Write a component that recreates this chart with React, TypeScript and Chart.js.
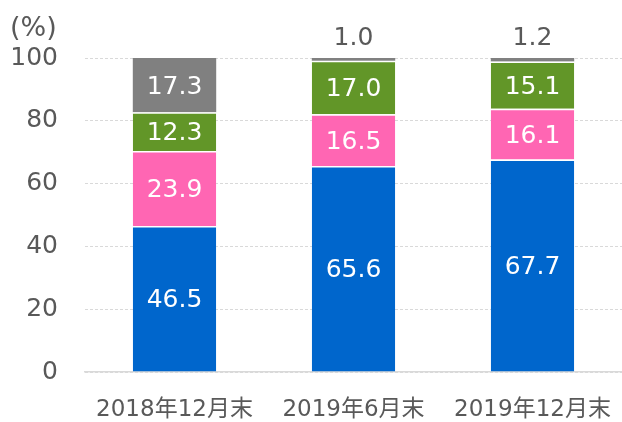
import React, { useEffect, useRef } from "react";
import { Chart, registerables } from "chart.js";

Chart.register(...registerables);

const categories = ["2018年12月末", "2019年6月末", "2019年12月末"];
const blueValues = [46.5, 65.6, 67.7];
const pinkValues = [23.9, 16.5, 16.1];
const greenValues = [12.3, 17.0, 15.1];
const grayValues = [17.3, 1.0, 1.2];
const yTicks = [0, 20, 40, 60, 80, 100];

const FONT = "'DejaVu Sans', Verdana, 'Noto Sans CJK JP', sans-serif";
const TEXT = "#595959";

const labelPlugin = {
  id: "segLabels",
  afterDatasetsDraw(chart: any) {
    const ctx = chart.ctx;
    ctx.save();
    ctx.font = `25px ${FONT}`;
    ctx.textAlign = "center";
    ctx.textBaseline = "middle";
    chart.data.datasets.forEach((ds: any, di: number) => {
      const meta = chart.getDatasetMeta(di);
      meta.data.forEach((bar: any, i: number) => {
        const v = ds.data[i] as number;
        const txt = v.toFixed(1);
        if (v < 5) {
          ctx.fillStyle = TEXT;
          ctx.fillText(txt, bar.x, bar.y - 19);
        } else {
          ctx.fillStyle = "#ffffff";
          ctx.fillText(txt, bar.x, (bar.y + bar.base) / 2 + 2);
        }
      });
    });
    ctx.restore();
  },
};

export default function App() {
  const ref = useRef<HTMLCanvasElement | null>(null);
  useEffect(() => {
    if (!ref.current) return;
    const mk = (label: string, data: number[], color: string, border: number) => ({
      label,
      data,
      backgroundColor: color,
      borderColor: "#ffffff",
      borderWidth: { top: border, bottom: 0, left: 0, right: 0 },
      borderSkipped: false,
      barPercentage: 0.466,
      categoryPercentage: 1,
    });
    const chart = new Chart(ref.current, {
      type: "bar",
      data: {
        labels: categories,
        datasets: [
          mk("blue", blueValues, "#0066CC", 1.5),
          mk("pink", pinkValues, "#FF66B3", 1.5),
          mk("green", greenValues, "#629628", 1.5),
          mk("gray", grayValues, "#808080", 0),
        ],
      },
      options: {
        animation: false,
        responsive: false,
        maintainAspectRatio: false,
        layout: { padding: { left: 10, right: -4, top: 0, bottom: 0 } },
        plugins: {
          legend: { display: false },
          tooltip: { enabled: false },
          title: {
            display: true,
            text: "(%)",
            align: "start",
            color: TEXT,
            font: { family: FONT, size: 27, weight: "normal", lineHeight: 1.2 },
            padding: { top: 13, bottom: 12.6 },
          },
        },
        scales: {
          x: {
            stacked: true,
            grid: { display: false, drawTicks: false },
            border: { display: true, color: "#d9d9d9", width: 1.5 },
            ticks: {
              color: TEXT,
              font: { family: FONT, size: 23, lineHeight: 1 },
              padding: 27,
              maxRotation: 0,
              autoSkip: false,
            },
            afterFit: (s: any) => {
              s.paddingLeft = 0;
              s.paddingRight = 0;
              s.height = 50;
            },
          },
          y: {
            stacked: true,
            min: 0,
            max: 100,
            afterBuildTicks: (axis: any) => {
              axis.ticks = yTicks.map((v) => ({ value: v }));
            },
            grid: { color: "#d9d9d9", lineWidth: 1, drawTicks: false },
            border: { display: false, dash: [3, 2] },
            ticks: {
              color: TEXT,
              font: { family: FONT, size: 25 },
              padding: 27,
            },
            afterFit: (s: any) => {
              s.width = 75;
              s.paddingTop = 0;
              s.paddingBottom = 0;
            },
          },
        },
      },
      plugins: [labelPlugin],
    });
    return () => chart.destroy();
  }, []);
  return (
    <div style={{ position: "fixed", left: 0, top: 0, width: 622, height: 422 }}>
      <canvas ref={ref} width={622} height={422} style={{ display: "block" }} />
    </div>
  );
}
